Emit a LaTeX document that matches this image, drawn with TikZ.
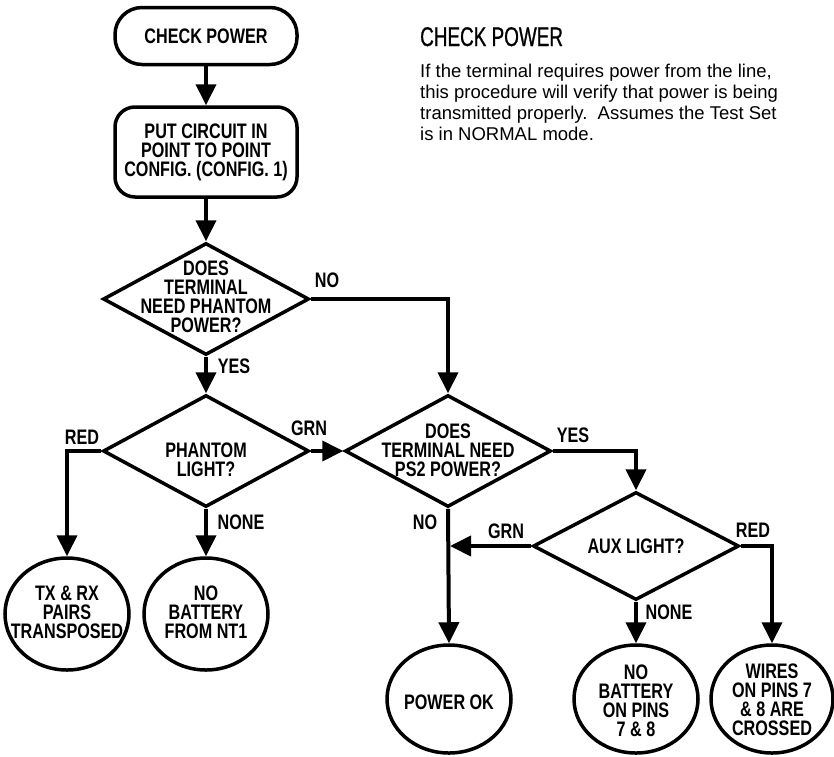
\documentclass[tikz,border=0pt]{standalone}
\usepackage{fontspec}
\usetikzlibrary{arrows.meta,shapes.geometric}
\newfontfamily\cond[FakeStretch=0.77]{Liberation Sans}
\newfontfamily\headf[FakeStretch=0.70,FakeBold=0.8]{Liberation Sans}
\newfontfamily\bodyf{Liberation Sans}
\tikzset{
  shp/.style={draw, line width=3.5pt, inner sep=0pt},
  stadium/.style={shp, rectangle, rounded corners=27pt, minimum width=182pt, minimum height=57pt},
  boxr/.style={shp, rectangle, rounded corners=20pt, minimum width=182pt, minimum height=90pt},
  dia/.style={shp, diamond, minimum width=206pt, minimum height=112pt},
  ell/.style={shp, ellipse, minimum width=124pt, minimum height=110pt},
  txt/.style={font=\cond\bfseries\fontsize{21}{19}\selectfont, align=center, inner sep=0pt},
  lbl/.style={font=\cond\bfseries\fontsize{21}{19}\selectfont, inner sep=0pt, text height=15pt, text depth=0pt},
  conn/.style={line width=4pt, -{Triangle[width=20pt,length=21pt]}},
  bodyline/.style={font=\bodyf\fontsize{18.5}{21}\selectfont, anchor=base west, inner sep=0pt}
}
\begin{document}
\begin{tikzpicture}[x=1pt,y=-1pt]
\useasboundingbox (0,0) rectangle (834,756);
% shapes
\node[stadium] (start) at (206,36) {};
\node[txt] (tstart) at (start) {CHECK POWER};
\node[boxr] (box) at (206,152) {};
\node[txt] (tbox) at (box) {PUT CIRCUIT IN\\POINT TO POINT\\CONFIG. (CONFIG. 1)};
\node[dia] (d1) at (206,299) {};
\node[txt] (td1) at (206,297) {DOES\\TERMINAL\\NEED PHANTOM\\POWER?};
\node[dia] (d2) at (206,451) {};
\node[txt] (td2) at (206,460) {PHANTOM\\LIGHT?};
\node[dia] (ps2) at (448,451) {};
\node[txt] (tps2) at (448,450) {DOES\\TERMINAL NEED\\PS2 POWER?};
\node[dia, minimum height=108pt] (aux) at (636,546) {};
\node[txt] (taux) at (636,546) {AUX LIGHT?};
\node[ell, minimum height=112pt] (e1) at (67,614) {};
\node[txt] (te1) at (67,612) {TX \& RX\\PAIRS\\TRANSPOSED};
\node[ell, minimum height=112pt] (e2) at (206,614) {};
\node[txt] (te2) at (206,612) {NO\\BATTERY\\FROM NT1};
\node[ell, minimum height=108pt] (ok) at (449,699) {};
\node[txt] (tok) at (449,702) {POWER OK};
\node[ell, minimum height=108pt] (nb) at (636,699) {};
\node[txt] (tnb) at (636,701) {NO\\BATTERY\\ON PINS\\7 \& 8};
\node[ell, minimum height=108pt, minimum width=122pt] (wires) at (772,699) {};
\node[txt] (twires) at (772,700) {WIRES\\ON PINS 7\\\& 8 ARE\\CROSSED};
\coordinate (j) at (ps2.south |- aux.west);
% connectors
\draw[conn] (start.south) -- (box.north);
\draw[conn] (box.south) -- (d1.north);
\draw[conn] (d1.east) -| (ps2.north);
\draw[conn] (d1.south) -- (d2.north);
\draw[conn] (d2.east) -- (ps2.west);
\draw[conn] (d2.west) -| (e1.north);
\draw[conn] (d2.south) -- (e2.north);
\draw[conn] (ps2.east) -| (aux.north);
\draw[conn] (ps2.south) -- (ok.north);
\draw[conn, shorten >=2pt] (aux.west) -- (j);
\draw[conn] (aux.south) -- (nb.north);
\draw[conn] (aux.east) -| (wires.north);
% labels
\node[lbl] (lno1) at (327,280) {NO};
\node[lbl] (lyes1) at (234,366) {YES};
\node[lbl] (lred1) at (82,437) {RED};
\node[lbl] (lgrn1) at (309,428) {GRN};
\node[lbl] (lnone1) at (241,522) {NONE};
\node[lbl] (lno2) at (425,522) {NO};
\node[lbl] (lyes2) at (573,435) {YES};
\node[lbl] (lgrn2) at (506,531) {GRN};
\node[lbl] (lnone2) at (669,612) {NONE};
\node[lbl] (lred2) at (753,530) {RED};
% heading and description
\node[font=\headf\fontsize{27}{27}\selectfont, anchor=base west, inner sep=0pt] (head) at (420,46) {CHECK POWER};
\node[bodyline] (b1) at (420,77) {If the terminal requires power from the line,};
\node[bodyline] (b2) at (420,98) {this procedure will verify that power is being};
\node[bodyline] (b3) at (420,119) {transmitted properly.\ \ Assumes the Test Set};
\node[bodyline] (b4) at (420,140) {is in NORMAL mode.};
\end{tikzpicture}
\end{document}
